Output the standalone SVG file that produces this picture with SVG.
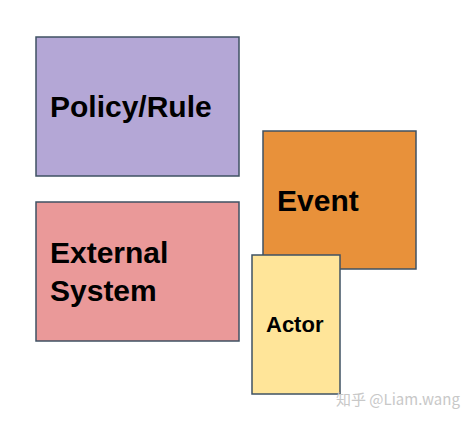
<svg xmlns="http://www.w3.org/2000/svg" width="468" height="422" viewBox="0 0 468 422">
<style>
.box{stroke:#3f5263;stroke-width:1.5}
.lbl{font-family:"Liberation Sans",Arial,sans-serif;font-weight:bold;fill:#000}
.wm{font-family:"Noto Sans CJK SC","Liberation Sans",sans-serif;fill:#c8c8c8;font-size:15px}
</style>
<rect width="468" height="422" fill="#fff"/>
<g id="policy">
<rect class="box" x="36" y="37" width="203" height="139" fill="#b4a7d6"/>
<text class="lbl" x="50" y="117" font-size="30">Policy/Rule</text>
</g>
<g id="event">
<rect class="box" x="263" y="131" width="153" height="138" fill="#e8913a"/>
<text class="lbl" x="277" y="211" font-size="30">Event</text>
</g>
<g id="external">
<rect class="box" x="36" y="202" width="203" height="139" fill="#ea9999"/>
<text class="lbl" x="50" y="263" font-size="30">External</text>
<text class="lbl" x="50" y="301" font-size="30">System</text>
</g>
<g id="actor">
<rect class="box" x="252" y="255" width="88" height="139" fill="#ffe599"/>
<text class="lbl" x="266" y="332" font-size="22">Actor</text>
</g>
<g id="connectors"></g>
<text class="wm" x="336" y="405">知乎 @Liam.wang</text>
</svg>
